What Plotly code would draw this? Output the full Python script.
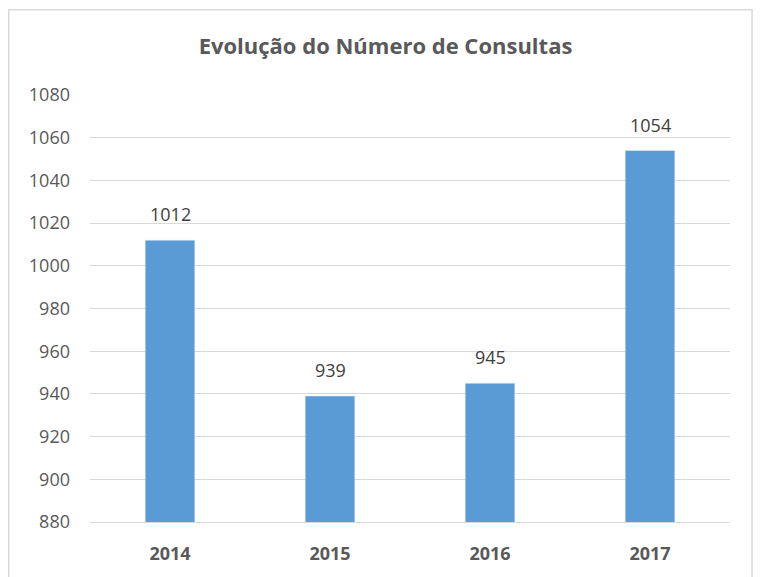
import plotly.graph_objects as go

years = ["2014", "2015", "2016", "2017"]
consultas = [1012, 939, 945, 1054]
y_ticks = [880, 900, 920, 940, 960, 980, 1000, 1020, 1040, 1060, 1080]

FONT = "Open Sans"

fig = go.Figure()
fig.add_trace(go.Bar(
    x=years, y=consultas,
    marker=dict(color="#5B9BD5"),
    cliponaxis=False,
))

# category axis: annotation x given as category index
for i, v in enumerate(consultas):
    fig.add_annotation(x=i, y=v, xref="x", yref="y", text=str(v), showarrow=False,
                       yshift=26, font=dict(family=FONT, size=18, color="#404040"))

fig.add_shape(type="rect", xref="paper", yref="paper",
              x0=-0.127, x1=1.0344, y0=-0.3, y1=1.1997,
              line=dict(color="#D9D9D9", width=1.5), layer="below")

fig.update_layout(
    width=755, height=569,
    margin=dict(l=82, r=33, t=87, b=50),
    paper_bgcolor="white", plot_bgcolor="white",
    showlegend=False,
    bargap=0.69,
    title=dict(text="<b>Evolução do Número de Consultas</b>", x=0.5, xanchor="center",
               y=1 - 38/569, yanchor="middle",
               font=dict(family=FONT, size=22, color="#595959")),
    font=dict(family=FONT, color="#595959"),
)
fig.update_xaxes(type="category", range=[-0.5, len(years) - 0.5],
                 showgrid=False, showline=True, linecolor="#D9D9D9", linewidth=1,
                 tickvals=years, ticktext=["<b>" + y + "</b>" for y in years],
                 tickfont=dict(family=FONT, size=18, color="#595959"),
                 ticklabelstandoff=15)
fig.update_yaxes(range=[880, 1080], tickvals=y_ticks, showgrid=True, gridcolor="#D9D9D9",
                 zeroline=False, showline=False,
                 tickfont=dict(family=FONT, size=18, color="#595959"),
                 ticklabelstandoff=19)

fig.write_html("out.html")
